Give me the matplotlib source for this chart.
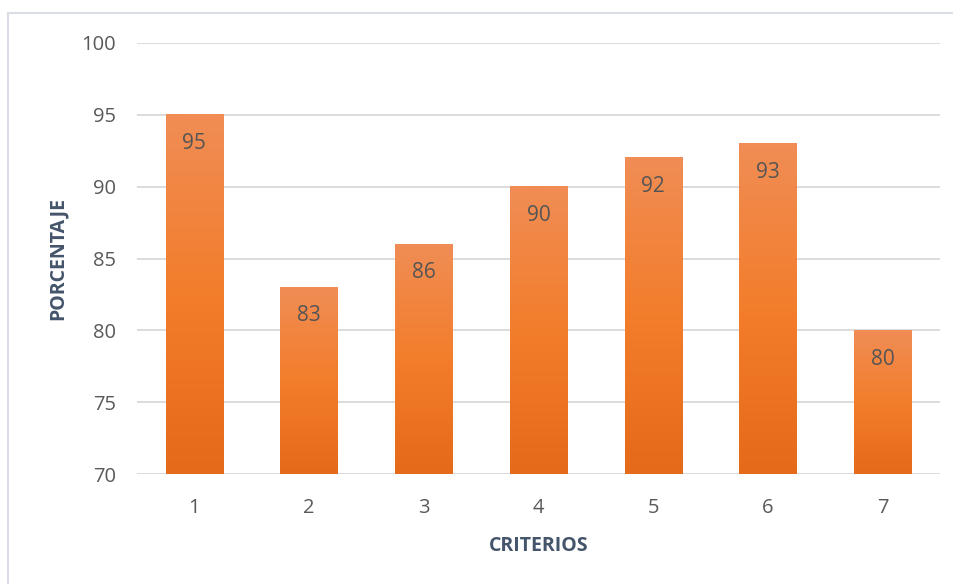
import numpy as np
import matplotlib.pyplot as plt
from matplotlib.colors import LinearSegmentedColormap
from matplotlib.lines import Line2D

criterios = ['1', '2', '3', '4', '5', '6', '7']
porcentaje = [95, 83, 86, 90, 92, 93, 80]
y_ticks = [70, 75, 80, 85, 90, 95, 100]

plt.rcParams['font.family'] = ['Open Sans', 'DejaVu Sans']

fig = plt.figure(figsize=(9.54, 5.84), dpi=100)
ax = fig.add_axes([137 / 954, 1 - 474 / 584, (940 - 137) / 954, (474 - 43) / 584])

# degradado naranja estilo Excel
cmap = LinearSegmentedColormap.from_list(
    'naranja', ['#E56A1A', '#F37D2B', '#F08D55'])
grad = np.linspace(0, 1, 256).reshape(-1, 1)

x = np.arange(len(criterios))
ancho = 0.5
bars = ax.bar(x, porcentaje, width=ancho, bottom=0, color='none', zorder=3)
for b, v in zip(bars, porcentaje):
    x0 = b.get_x()
    ax.imshow(grad, cmap=cmap, origin='lower', aspect='auto',
              extent=[x0, x0 + ancho, 70, v], zorder=3)
    ax.text(b.get_x() + ancho / 2, v - 2.0, str(v), ha='center', va='center',
            fontsize=15, color='#555555', zorder=4)

ax.set_xlim(-0.5, len(criterios) - 0.5)
ax.set_ylim(70, 100)
ax.set_yticks(y_ticks)
ax.set_xticks(x)
ax.set_xticklabels(criterios)
ax.tick_params(length=0, labelsize=14.5, labelcolor='#595959')
ax.tick_params(axis='y', pad=15)
ax.tick_params(axis='x', pad=17)
ax.grid(axis='y', color='#D9D9D9', linewidth=1.3, zorder=0)
for s in ax.spines.values():
    s.set_visible(False)

ax.set_xlabel('CRITERIOS', fontsize=14, fontweight='bold', color='#44546A', labelpad=13)
ax.set_ylabel('PORCENTAJE', fontsize=14, fontweight='bold', color='#44546A', labelpad=10)

# borde del gráfico
fig.add_artist(Line2D([8 / 954, 8 / 954], [0, 1 - 13 / 584], color='#D9DEE6', linewidth=1.5))
fig.add_artist(Line2D([8 / 954, 1], [1 - 13 / 584, 1 - 13 / 584], color='#D9DEE6', linewidth=1.5))

fig.savefig('out.png', dpi=100)
